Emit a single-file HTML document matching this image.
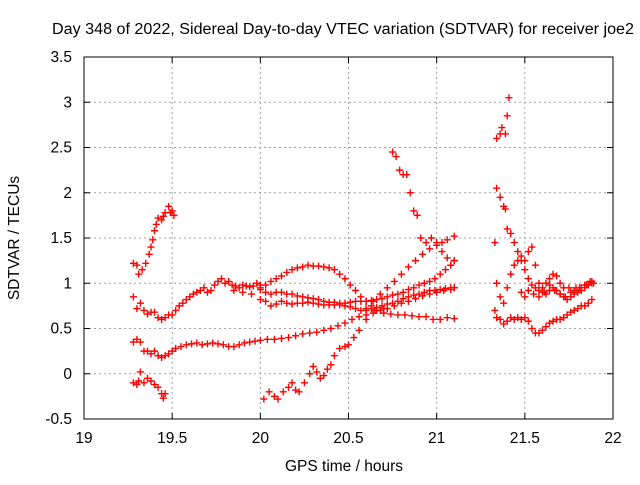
<!DOCTYPE html>
<html><head><meta charset="utf-8"><style>
body{margin:0;background:#fff;font-family:"Liberation Sans",sans-serif}
</style></head><body>
<svg id="c" width="640" height="480" xmlns="http://www.w3.org/2000/svg" font-family="Liberation Sans, sans-serif" font-size="15.5">
<rect width="640" height="480" fill="#fff"/>
<text x="343" y="34" text-anchor="middle" textLength="582" lengthAdjust="spacingAndGlyphs">Day 348 of 2022, Sidereal Day-to-day VTEC variation (SDTVAR) for receiver joe2</text>
<text x="344" y="471" text-anchor="middle">GPS time / hours</text>
<text transform="translate(19,238) rotate(-90)" text-anchor="middle">SDTVAR / TECUs</text>
<g id="grid"></g><g id="ticks"></g><g id="marks"></g>
<rect x="84" y="57" width="529" height="362" fill="none" stroke="#000"/>
</svg>
<script>
const xTicks=[19,19.5,20,20.5,21,21.5,22];
const yTicks=[-0.5,0,0.5,1,1.5,2,2.5,3,3.5];
const trackA=[[19.28,1.22],[19.3,1.2],[19.31,1.1],[19.33,1.15],[19.35,1.22],[19.37,1.32],[19.38,1.4],[19.39,1.48],[19.4,1.58],[19.41,1.65],[19.42,1.72],[19.44,1.7],[19.45,1.74],[19.46,1.78],[19.48,1.85],[19.49,1.78],[19.5,1.8],[19.51,1.75]];
const trackB=[[19.28,0.85],[19.3,0.72],[19.32,0.78],[19.34,0.7],[19.36,0.66],[19.38,0.68],[19.4,0.68],[19.42,0.62],[19.44,0.6],[19.46,0.62],[19.48,0.65],[19.5,0.65],[19.52,0.7],[19.54,0.75],[19.56,0.78],[19.58,0.82],[19.6,0.85],[19.62,0.88],[19.64,0.9],[19.66,0.92],[19.68,0.95],[19.7,0.9],[19.72,0.92],[19.74,0.98],[19.76,1.02],[19.78,1.05],[19.8,1.0],[19.82,1.02],[19.84,0.98],[19.86,0.97],[19.88,0.95],[19.9,0.98],[19.92,0.97],[19.94,0.96],[19.96,0.97],[19.98,1.0],[20.0,0.98]];
const trackC=[[20.0,0.95],[20.03,0.98],[20.06,1.02],[20.09,1.05],[20.12,1.08],[20.15,1.12],[20.18,1.15],[20.21,1.17],[20.24,1.18],[20.27,1.2],[20.3,1.19],[20.33,1.19],[20.36,1.18],[20.39,1.17],[20.42,1.15],[20.45,1.1],[20.48,1.05],[20.51,0.98],[20.54,0.92],[20.57,0.85],[20.6,0.8],[20.63,0.75],[20.66,0.7],[20.7,0.67],[20.74,0.66],[20.78,0.65],[20.82,0.65],[20.86,0.64],[20.9,0.63],[20.94,0.63],[20.98,0.6],[21.02,0.6],[21.06,0.62],[21.1,0.61]];
const trackD=[[20.0,0.93],[20.03,0.9],[20.06,0.88],[20.09,0.9],[20.12,0.9],[20.15,0.88],[20.18,0.88],[20.21,0.86],[20.24,0.85],[20.27,0.84],[20.3,0.83],[20.33,0.82],[20.36,0.8],[20.39,0.79],[20.42,0.79],[20.45,0.78],[20.48,0.78],[20.51,0.79],[20.54,0.8],[20.57,0.8],[20.6,0.8],[20.63,0.81],[20.66,0.82],[20.69,0.83],[20.72,0.85],[20.75,0.87],[20.78,0.88],[20.81,0.9],[20.84,0.93],[20.87,0.95],[20.9,0.98],[20.93,1.0],[20.96,1.02],[20.99,1.05],[21.02,1.1],[21.05,1.15],[21.08,1.2],[21.1,1.25]];
const trackE=[[19.85,0.92],[19.9,0.9],[19.95,0.88],[20.0,0.82],[20.03,0.8],[20.06,0.75],[20.09,0.77],[20.12,0.8],[20.15,0.78],[20.18,0.77],[20.21,0.78],[20.24,0.78],[20.27,0.79],[20.3,0.78],[20.33,0.77],[20.36,0.76],[20.39,0.76],[20.42,0.76],[20.45,0.76],[20.48,0.75],[20.51,0.74],[20.54,0.72],[20.57,0.7],[20.6,0.7],[20.63,0.72],[20.66,0.73],[20.69,0.75],[20.72,0.77],[20.75,0.78],[20.78,0.8],[20.81,0.83],[20.84,0.85],[20.87,0.87],[20.9,0.88],[20.93,0.9],[20.96,0.92],[20.99,0.92],[21.02,0.93],[21.05,0.94],[21.08,0.95],[21.1,0.95]];
const trackF=[[19.28,0.35],[19.3,0.38],[19.32,0.35],[19.34,0.25],[19.36,0.25],[19.38,0.22],[19.4,0.25],[19.42,0.2],[19.44,0.18],[19.46,0.2],[19.48,0.22],[19.5,0.25],[19.52,0.28],[19.55,0.3],[19.58,0.32],[19.61,0.33],[19.64,0.34],[19.67,0.32],[19.7,0.33],[19.73,0.34],[19.76,0.33],[19.79,0.32],[19.82,0.3],[19.85,0.3],[19.88,0.32],[19.91,0.34],[19.94,0.35],[19.97,0.36],[20.0,0.37],[20.04,0.38],[20.08,0.38],[20.12,0.39],[20.16,0.4],[20.2,0.42],[20.24,0.44],[20.28,0.45],[20.32,0.46],[20.36,0.48],[20.4,0.5],[20.44,0.53],[20.48,0.56],[20.52,0.6],[20.56,0.63],[20.6,0.65],[20.64,0.67],[20.68,0.7],[20.72,0.72],[20.76,0.75],[20.8,0.78],[20.84,0.8],[20.88,0.83],[20.92,0.86],[20.96,0.88],[21.0,0.9],[21.04,0.92],[21.08,0.93],[21.1,0.95]];
const trackG=[[19.28,-0.1],[19.3,-0.12],[19.31,-0.08],[19.32,0.02],[19.34,-0.1],[19.36,-0.05],[19.38,-0.08],[19.4,-0.12],[19.42,-0.15],[19.44,-0.22],[19.45,-0.27],[19.46,-0.22]];
const trackH=[[20.02,-0.28],[20.05,-0.2],[20.08,-0.25],[20.1,-0.28],[20.13,-0.2],[20.16,-0.15],[20.18,-0.1],[20.2,-0.18],[20.22,-0.2],[20.25,-0.1],[20.28,0.0],[20.3,0.08],[20.32,0.02],[20.34,-0.05],[20.36,-0.02],[20.38,0.05],[20.4,0.1],[20.42,0.2],[20.45,0.28],[20.48,0.3],[20.5,0.32],[20.53,0.4],[20.56,0.48],[20.6,0.6],[20.65,0.7],[20.7,0.72]];
const trackI=[[20.6,0.72],[20.64,0.8],[20.68,0.88],[20.72,0.95],[20.76,1.02],[20.8,1.1],[20.84,1.18],[20.88,1.25],[20.92,1.32],[20.96,1.38],[21.0,1.42],[21.03,1.45],[21.06,1.48],[21.1,1.52]];
const trackJ=[[20.75,2.45],[20.77,2.4],[20.79,2.25],[20.81,2.2],[20.83,2.2],[20.85,2.0],[20.87,1.8],[20.89,1.75],[20.91,1.5],[20.94,1.45],[20.97,1.5],[21.0,1.45],[21.03,1.35],[21.06,1.28],[21.08,1.2],[21.1,1.25]];
const trackK=[[21.34,2.6],[21.36,2.65],[21.37,2.72],[21.39,2.65],[21.4,2.85],[21.41,3.05],[21.34,2.05],[21.36,1.95],[21.38,1.85],[21.39,1.82],[21.4,1.6],[21.42,1.55],[21.44,1.45],[21.46,1.35],[21.48,1.25],[21.5,1.15],[21.52,1.05],[21.54,0.98],[21.56,0.95],[21.58,0.92],[21.6,0.95],[21.62,1.0],[21.64,1.05],[21.66,1.1],[21.68,1.08],[21.7,1.0],[21.72,0.95],[21.75,0.95],[21.78,0.92],[21.81,0.95],[21.84,0.98],[21.87,1.02],[21.89,1.0]];
const trackL=[[21.33,1.45],[21.34,1.0],[21.36,0.85],[21.38,0.78],[21.4,0.95],[21.42,1.1],[21.44,1.2],[21.46,1.25],[21.48,1.3],[21.5,1.25],[21.52,1.35],[21.54,1.4],[21.56,1.2],[21.58,1.0],[21.6,0.9],[21.62,0.88],[21.64,0.92],[21.66,0.95],[21.68,0.92],[21.7,0.88],[21.72,0.85],[21.74,0.82],[21.76,0.85],[21.78,0.88],[21.8,0.9],[21.82,0.92],[21.84,0.95],[21.86,0.98],[21.88,1.0]];
const trackM=[[21.33,0.7],[21.34,0.62],[21.36,0.6],[21.38,0.55],[21.4,0.58],[21.42,0.62],[21.44,0.6],[21.46,0.62],[21.48,0.6],[21.5,0.62],[21.52,0.58],[21.54,0.5],[21.56,0.45],[21.58,0.45],[21.6,0.48],[21.62,0.52],[21.64,0.56],[21.66,0.58],[21.68,0.6],[21.7,0.6],[21.72,0.62],[21.74,0.65],[21.76,0.68],[21.78,0.7],[21.8,0.72],[21.82,0.75],[21.84,0.75],[21.86,0.78],[21.88,0.82]];
const trackN=[[21.48,0.9],[21.5,0.85],[21.52,0.92],[21.55,0.88],[21.58,0.85],[21.61,0.9],[21.64,0.98],[21.67,0.92],[21.7,0.88],[21.73,0.85],[21.76,0.9],[21.79,0.95],[21.82,0.95],[21.85,0.98],[21.88,1.02]];
const series=[trackA,trackB,trackC,trackD,trackE,trackF,trackG,trackH,trackI,trackJ,trackK,trackL,trackM,trackN];

const X0=84,X1=613,Y0=419,Y1=57;
const sx=v=>X0+(v-19)/3*(X1-X0);
const sy=v=>Y0-(v+0.5)/4*(Y0-Y1);
const NS='http://www.w3.org/2000/svg';
const grid=document.getElementById('grid'),ticks=document.getElementById('ticks'),marks=document.getElementById('marks');
function mk(t,a,p){const e=document.createElementNS(NS,t);for(const k in a)e.setAttribute(k,a[k]);p.appendChild(e);return e;}
xTicks.forEach(v=>{const x=sx(v);
 if(v>19&&v<22){const g=mk('line',{x1:x,x2:x,y1:Y1,y2:Y0,stroke:'#a0a0a0','stroke-dasharray':'2,3'},grid);
 
 }
 mk('line',{x1:x,x2:x,y1:Y0,y2:Y0-6,stroke:'#000'},ticks);mk('line',{x1:x,x2:x,y1:Y1,y2:Y1+6,stroke:'#000'},ticks);
 const t=mk('text',{x:x,y:443,'text-anchor':'middle'},ticks);t.textContent=String(v);
 
 });
yTicks.forEach(v=>{const y=sy(v);
 if(v>-0.5&&v<3.5){const g=mk('line',{x1:X0,x2:X1,y1:y,y2:y,stroke:'#a0a0a0','stroke-dasharray':'2,3'},grid);
 
 }
 mk('line',{x1:X0,x2:X0+6,y1:y,y2:y,stroke:'#000'},ticks);mk('line',{x1:X1,x2:X1-6,y1:y,y2:y,stroke:'#000'},ticks);
 const t=mk('text',{x:72,y:y+5,'text-anchor':'end'},ticks);t.textContent=String(v);
 
 });
series.forEach(s=>s.forEach(([a,b])=>{const x=sx(a),y=sy(b);
 const p=mk('path',{d:`M${x-3.5},${y}H${x+3.5}M${x},${y-3.5}V${y+3.5}`,stroke:'#f00','stroke-width':1.4,fill:'none'},marks);
 
 }));
</script>
</body></html>
